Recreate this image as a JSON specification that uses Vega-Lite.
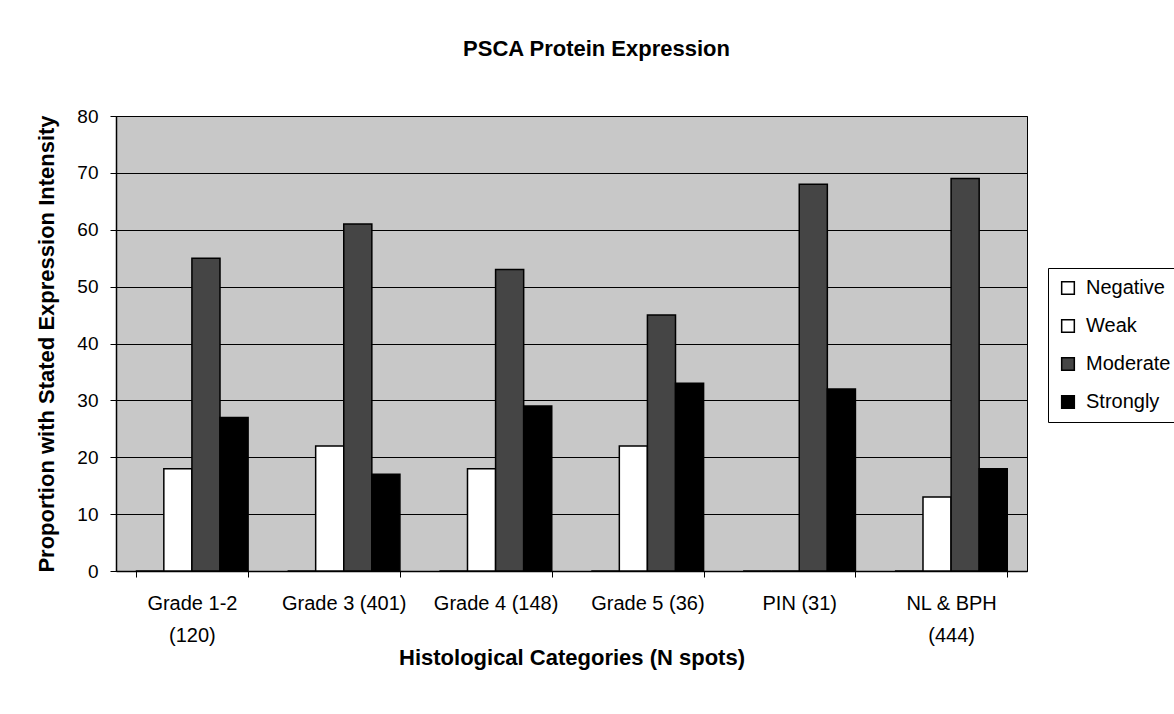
{
  "$schema": "https://vega.github.io/schema/vega-lite/v6.json",
  "width": 911,
  "height": 455,
  "autosize": "none",
  "padding": {"left": 116, "top": 116, "right": 147, "bottom": 143},
  "background": "white",
  "title": {"text": "PSCA Protein Expression", "font": "Liberation Sans", "fontSize": 22, "fontWeight": "bold", "color": "black", "offset": 46, "anchor": "middle", "dx": 25},
  "data": {"values": [
    {"category": "Grade 1-2 (120)", "intensity": "Negative", "value": 0},
    {"category": "Grade 1-2 (120)", "intensity": "Weak", "value": 18},
    {"category": "Grade 1-2 (120)", "intensity": "Moderate", "value": 55},
    {"category": "Grade 1-2 (120)", "intensity": "Strongly", "value": 27},
    {"category": "Grade 3 (401)", "intensity": "Negative", "value": 0},
    {"category": "Grade 3 (401)", "intensity": "Weak", "value": 22},
    {"category": "Grade 3 (401)", "intensity": "Moderate", "value": 61},
    {"category": "Grade 3 (401)", "intensity": "Strongly", "value": 17},
    {"category": "Grade 4 (148)", "intensity": "Negative", "value": 0},
    {"category": "Grade 4 (148)", "intensity": "Weak", "value": 18},
    {"category": "Grade 4 (148)", "intensity": "Moderate", "value": 53},
    {"category": "Grade 4 (148)", "intensity": "Strongly", "value": 29},
    {"category": "Grade 5 (36)", "intensity": "Negative", "value": 0},
    {"category": "Grade 5 (36)", "intensity": "Weak", "value": 22},
    {"category": "Grade 5 (36)", "intensity": "Moderate", "value": 45},
    {"category": "Grade 5 (36)", "intensity": "Strongly", "value": 33},
    {"category": "PIN (31)", "intensity": "Negative", "value": 0},
    {"category": "PIN (31)", "intensity": "Weak", "value": 0},
    {"category": "PIN (31)", "intensity": "Moderate", "value": 68},
    {"category": "PIN (31)", "intensity": "Strongly", "value": 32},
    {"category": "NL & BPH (444)", "intensity": "Negative", "value": 0},
    {"category": "NL & BPH (444)", "intensity": "Weak", "value": 13},
    {"category": "NL & BPH (444)", "intensity": "Moderate", "value": 69},
    {"category": "NL & BPH (444)", "intensity": "Strongly", "value": 18}
  ]},
  "mark": {"type": "bar", "stroke": "black", "strokeWidth": 1.5},
  "encoding": {
    "x": {
      "field": "category", "type": "nominal", "sort": null,
      "scale": {"paddingInner": 0.26, "paddingOuter": 0.13},
      "axis": {
        "title": "Histological Categories (N spots)",
        "labelAngle": 0,
        "labelExpr": "datum.value == 'Grade 1-2 (120)' ? ['Grade 1-2', '(120)'] : datum.value == 'NL & BPH (444)' ? ['NL & BPH', '(444)'] : datum.value",
        "labelFont": "Liberation Sans", "labelFontSize": 20, "labelColor": "black",
        "labelLineHeight": 32, "labelPadding": 16,
        "titleFont": "Liberation Sans", "titleFontSize": 22, "titleFontWeight": "bold", "titleColor": "black", "titlePadding": 2,
        "domainColor": "black", "domainWidth": 1.5, "tickColor": "black", "tickSize": 6, "tickBand": "extent",
        "grid": false
      }
    },
    "xOffset": {"field": "intensity", "type": "nominal", "sort": ["Negative", "Weak", "Moderate", "Strongly"]},
    "y": {
      "field": "value", "type": "quantitative",
      "scale": {"domain": [0, 80]},
      "axis": {
        "title": "Proportion with Stated Expression Intensity",
        "values": [0, 10, 20, 30, 40, 50, 60, 70, 80],
        "labelFont": "Liberation Sans", "labelFontSize": 19, "labelColor": "black", "labelPadding": 12,
        "titleFont": "Liberation Sans", "titleFontSize": 22, "titleFontWeight": "bold", "titleColor": "black", "titlePadding": 18,
        "domainColor": "black", "domainWidth": 1.5, "tickColor": "black", "tickSize": 6,
        "grid": true, "gridColor": "black", "gridWidth": 1.2, "gridOpacity": 1
      }
    },
    "color": {
      "field": "intensity", "type": "nominal",
      "sort": ["Negative", "Weak", "Moderate", "Strongly"],
      "scale": {"domain": ["Negative", "Weak", "Moderate", "Strongly"], "range": ["#ffffff", "#ffffff", "#454545", "#000000"]},
      "legend": {
        "orient": "none", "legendX": 932, "legendY": 152,
        "title": null,
        "symbolType": "square", "symbolSize": 160, "symbolStrokeColor": "black", "symbolStrokeWidth": 1.5, "symbolOpacity": 1,
        "labelFont": "Liberation Sans", "labelFontSize": 20, "labelColor": "black", "labelOffset": 8,
        "rowPadding": 18, "padding": 10,
        "strokeColor": "black", "fillColor": "white"
      }
    }
  },
  "config": {"view": {"fill": "#c8c8c8", "stroke": "black", "strokeWidth": 1}}
}
